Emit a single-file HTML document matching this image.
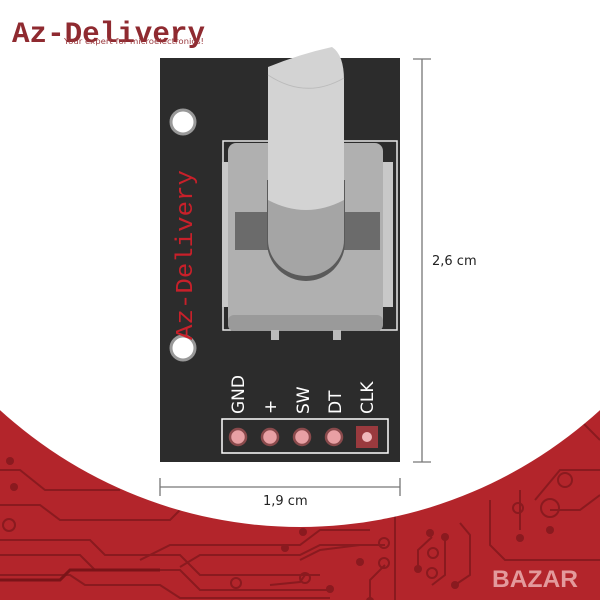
<!DOCTYPE html>
<html><head><meta charset="utf-8"><style>
html,body{margin:0;padding:0;background:#fff;}
svg{display:block}
</style></head><body>
<svg width="600" height="600" viewBox="0 0 600 600" xmlns="http://www.w3.org/2000/svg" font-family="DejaVu Sans, Liberation Sans, sans-serif">
<rect width="600" height="600" fill="#b3252b"/>
<g stroke="#8a1a1f" stroke-width="2" fill="none">
<path d="M0 555 L80 555 L95 570 L180 570 L200 590 L330 590"/>
<path d="M0 540 L90 540 L105 555 L180 555 L200 575 L320 575"/>
<path d="M0 505 L40 505 L60 520 L170 520 L190 500 L300 500"/>
<path d="M0 470 L20 470 L45 490 L120 490"/>
<path d="M0 575 L70 575 L85 585 L160 585 L180 598 L330 598"/>
<path d="M140 560 L170 545 L300 545 L320 530 L370 530"/>
<path d="M180 567 L200 555 L300 555 L320 545 L385 545"/>
<path d="M270 585 L300 582 L305 575 L320 575"/>
<path d="M300 560 L320 550 L360 545"/>
<path d="M370 600 L370 580 L385 565"/>
<path d="M395 470 L395 600"/>
<path d="M418 570 L418 550 L432 537"/>
<path d="M445 538 L445 575 L432 585"/>
<path d="M460 523 L470 535 L470 575 L455 585"/>
<path d="M490 500 L490 545 L505 560 L600 560"/>
<path d="M520 490 L520 530"/>
<path d="M535 500 L560 470 L600 470"/>
<path d="M550 510 L580 510 L600 495"/>
<path d="M580 420 L600 440"/>
</g>
<path d="M0 580 L60 580 L70 570 L160 570" stroke="#7a1418" stroke-width="3" fill="none"/>
<g fill="#8a1a1f">
<circle cx="10" cy="461" r="4"/><circle cx="14" cy="487" r="4"/><circle cx="303" cy="532" r="4"/><circle cx="285" cy="548" r="4"/><circle cx="360" cy="562" r="4"/><circle cx="370" cy="601" r="4"/><circle cx="330" cy="589" r="4"/><circle cx="418" cy="569" r="4"/><circle cx="445" cy="537" r="4"/><circle cx="455" cy="585" r="4"/><circle cx="520" cy="538" r="4"/><circle cx="550" cy="530" r="4"/><circle cx="430" cy="533" r="4"/></g>
<g fill="none" stroke="#8a1a1f" stroke-width="2">
<circle cx="9" cy="525" r="6"/><circle cx="236" cy="583" r="5"/><circle cx="305" cy="578" r="5"/><circle cx="384" cy="543" r="5"/><circle cx="384" cy="563" r="5"/><circle cx="432" cy="573" r="5"/><circle cx="433" cy="553" r="5"/><circle cx="518" cy="508" r="5"/><circle cx="550" cy="508" r="9"/><circle cx="565" cy="480" r="7"/></g>
<ellipse cx="300" cy="68" rx="450" ry="459" fill="#fff"/>
<text x="492" y="587" font-size="24" font-weight="bold" fill="#e39a9c" textLength="86" lengthAdjust="spacingAndGlyphs" font-family="Liberation Sans, sans-serif">BAZAR</text>
<!-- logo -->
<text x="12" y="42" font-size="30" font-weight="bold" fill="#8f2a30" textLength="193" lengthAdjust="spacingAndGlyphs" font-family="Liberation Mono, monospace">Az-Delivery</text>
<text x="64" y="44" font-size="8" fill="#9a3a3f" textLength="140" lengthAdjust="spacingAndGlyphs">Your expert for microelectronics!</text>
<!-- board -->
<rect x="160" y="58" width="240" height="404" fill="#2c2c2c"/>
<circle cx="183" cy="122" r="12" fill="#fff" stroke="#999" stroke-width="3"/>
<circle cx="183" cy="348" r="12" fill="#fff" stroke="#999" stroke-width="3"/>
<text transform="translate(192,340) rotate(-90)" font-size="24" fill="#c8202a" textLength="170" lengthAdjust="spacingAndGlyphs" font-family="Liberation Mono, monospace">Az-Delivery</text>
<rect x="223" y="141" width="174" height="189" fill="none" stroke="#e8e8e8" stroke-width="1.5"/>
<rect x="222" y="162" width="10" height="145" fill="#c8c8c8"/>
<rect x="383" y="162" width="10" height="145" fill="#c8c8c8"/>
<rect x="228" y="143" width="155" height="188" rx="8" fill="#b0b0b0"/>
<rect x="228" y="315" width="155" height="16" rx="6" fill="#9a9a9a"/>
<rect x="271" y="330" width="8" height="10" fill="#bbb"/><rect x="333" y="330" width="8" height="10" fill="#bbb"/>
<rect x="235" y="212" width="145" height="38" fill="#6b6b6b"/>
<path d="M267 180 L345 180 L345 242 A39 39 0 0 1 267 242 Z" fill="#5a5a5a"/>
<path d="M268 180 L344 180 L344 240 A38 36 0 0 1 268 240 Z" fill="#a5a5a5"/>
<path d="M268 67 Q300 54 332 47 Q344 55 344 80 L344 200 Q306 220 268 200 Z" fill="#d3d3d3"/>
<path d="M268 75 Q306 100 344 78" fill="none" stroke="#bbb" stroke-width="1"/>
<!-- pins -->
<g fill="#fff" font-size="17">
<text transform="translate(244,414) rotate(-90)">GND</text>
<text transform="translate(276,414) rotate(-90)">+</text>
<text transform="translate(309,414) rotate(-90)">SW</text>
<text transform="translate(341,414) rotate(-90)">DT</text>
<text transform="translate(373,414) rotate(-90)">CLK</text>
</g>
<rect x="222" y="419" width="166" height="34" fill="none" stroke="#fff" stroke-width="1.5"/>
<g fill="#e8a0a4" stroke="#8a4a4c" stroke-width="2.5">
<circle cx="238" cy="437" r="8"/><circle cx="270" cy="437" r="8"/><circle cx="302" cy="437" r="8"/><circle cx="334" cy="437" r="8"/></g>
<rect x="356" y="426" width="22" height="22" fill="#9a3a3e"/>
<circle cx="367" cy="437" r="5" fill="#f0b8bb"/>
<!-- dimensions -->
<g stroke="#777" stroke-width="1.3">
<line x1="422" y1="59" x2="422" y2="462"/><line x1="413" y1="59" x2="431" y2="59"/><line x1="413" y1="462" x2="431" y2="462"/>
<line x1="160" y1="487" x2="400" y2="487"/><line x1="160" y1="478" x2="160" y2="496"/><line x1="400" y1="478" x2="400" y2="496"/>
</g>
<text x="432" y="265" font-size="13" fill="#222">2,6 cm</text>
<text x="263" y="505" font-size="13" fill="#222">1,9 cm</text>
</svg>
</body></html>
